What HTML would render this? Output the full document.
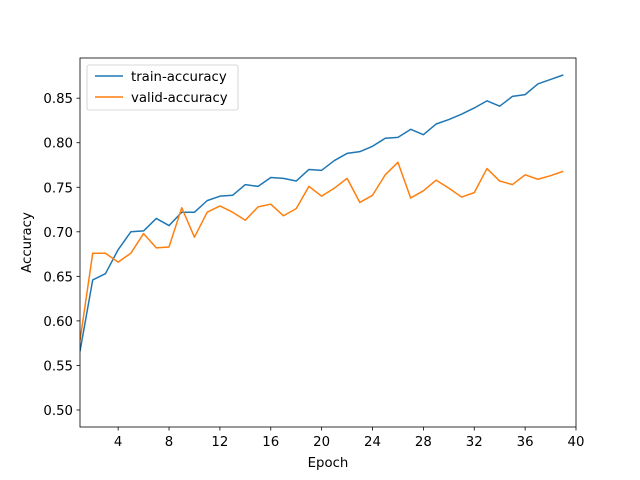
<!DOCTYPE html>
<html><head><meta charset="utf-8"><style>
body{margin:0;background:#fff}
svg{display:block;font-family:"DejaVu Sans","Liberation Sans",sans-serif}
</style></head><body>
<svg id="c" width="640" height="480"></svg>
<script>
const epochs=[];for(let i=1;i<=39;i++)epochs.push(i);
const trainAcc=[0.566,0.646,0.653,0.680,0.700,0.701,0.715,0.707,0.722,0.722,0.735,0.740,0.741,0.753,0.751,0.761,0.760,0.757,0.770,0.769,0.780,0.788,0.790,0.796,0.805,0.806,0.815,0.809,0.821,0.826,0.832,0.839,0.847,0.841,0.852,0.854,0.866,0.871,0.876];
const validAcc=[0.578,0.676,0.676,0.666,0.676,0.698,0.682,0.683,0.727,0.694,0.722,0.729,0.722,0.713,0.728,0.731,0.718,0.726,0.751,0.740,0.749,0.760,0.733,0.741,0.764,0.778,0.738,0.746,0.758,0.749,0.739,0.744,0.771,0.757,0.753,0.764,0.759,0.763,0.768];
const xTicks=[4,8,12,16,20,24,28,32,36,40];
const yTicks=[0.50,0.55,0.60,0.65,0.70,0.75,0.80,0.85];
const L=80,R=576,T=58,B=427,xmin=1,xmax=40,ymin=0.4809,ymax=0.8951;
const FS=13.3;
const sx=v=>L+(v-xmin)/(xmax-xmin)*(R-L);
const sy=v=>B-(v-ymin)/(ymax-ymin)*(B-T);
const svg=document.getElementById('c');const NS='http://www.w3.org/2000/svg';
function mk(t,a,p){const e=document.createElementNS(NS,t);for(const k in a)e.setAttribute(k,a[k]);(p||svg).appendChild(e);return e;}
const cp=mk('clipPath',{id:'cl'});mk('rect',{x:L,y:T,width:R-L,height:B-T},cp);
const g=mk('g',{'clip-path':'url(#cl)'});
function lineIn(data,color,name){
  const p=mk('polyline',{points:data.map((v,i)=>sx(epochs[i])+','+sy(v)).join(' '),fill:'none',stroke:color,'stroke-width':1.5,'stroke-linejoin':'round'},g);
  
  
}
lineIn(trainAcc,'#1f77b4','train-accuracy-line');
lineIn(validAcc,'#ff7f0e','valid-accuracy-line');
const frame=mk('rect',{x:L,y:T,width:R-L,height:B-T,fill:'none',stroke:'#000','stroke-width':0.8});


xTicks.forEach(v=>{const x=sx(v);mk('line',{x1:x,x2:x,y1:B,y2:B+3.5,stroke:'#000','stroke-width':0.8});
  const t=mk('text',{x:x,y:B+19,'text-anchor':'middle','font-size':FS});t.textContent=v;
  
  });
yTicks.forEach(v=>{const y=sy(v);mk('line',{x1:L-3.5,x2:L,y1:y,y2:y,stroke:'#000','stroke-width':0.8});
  const t=mk('text',{x:L-7,y:y+5,'text-anchor':'end','font-size':FS});t.textContent=v.toFixed(2);
  
  });
const xt=mk('text',{x:(L+R)/2,y:467,'text-anchor':'middle','font-size':FS});xt.textContent='Epoch';


const yt=mk('text',{x:0,y:0,'text-anchor':'middle','font-size':FS,transform:'translate(31,'+((T+B)/2)+') rotate(-90)'});yt.textContent='Accuracy';


const lg=mk('g',{});


mk('rect',{x:87,y:65,width:151,height:45,rx:2,fill:'#fff',stroke:'#ccc','stroke-width':0.8},lg);
[['train-accuracy','#1f77b4',76],['valid-accuracy','#ff7f0e',97]].forEach(([n,c,y])=>{
  mk('line',{x1:95,x2:123,y1:y,y2:y,stroke:c,'stroke-width':1.5},lg);
  const t=mk('text',{x:131,y:y+5,'font-size':FS},lg);t.textContent=n;
  
  
});
</script>
</body></html>
